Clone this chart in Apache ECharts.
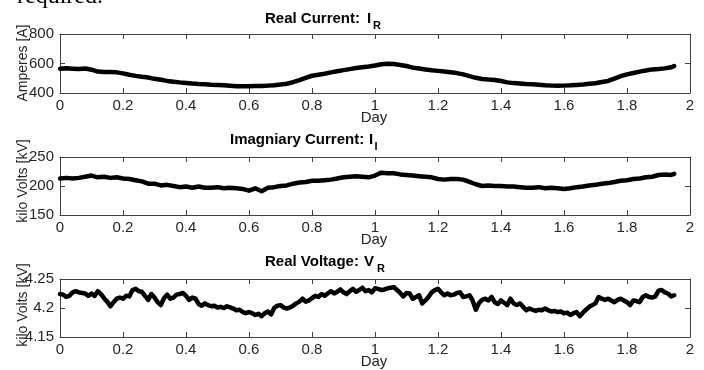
<!DOCTYPE html>
<html><head><meta charset="utf-8">
<script src="https://cdn.jsdelivr.net/npm/echarts@6/dist/echarts.min.js"></script>
<style>html,body{margin:0;padding:0;background:#fff}#c{width:704px;height:370px}</style>
</head><body><div id="c"></div><script>
// ---- data ----
const dayCoarse = [
0,0.02,0.04,0.06,0.08,0.1,0.12,0.14,0.16,0.18,
0.2,0.22,0.24,0.26,0.28,0.3,0.32,0.34,0.36,0.38,
0.4,0.42,0.44,0.46,0.48,0.5,0.52,0.54,0.56,0.58,
0.6,0.62,0.64,0.66,0.68,0.7,0.72,0.74,0.76,0.78,
0.8,0.82,0.84,0.86,0.88,0.9,0.92,0.94,0.96,0.98,
1,1.02,1.04,1.06,1.08,1.1,1.12,1.14,1.16,1.18,
1.2,1.22,1.24,1.26,1.28,1.3,1.32,1.34,1.36,1.38,
1.4,1.42,1.44,1.46,1.48,1.5,1.52,1.54,1.56,1.58,
1.6,1.62,1.64,1.66,1.68,1.7,1.72,1.74,1.76,1.78,
1.8,1.82,1.84,1.86,1.88,1.9,1.92,1.94,1.95];
const realCurrent = [
565,568,565,562,566,558,545,543,542,540,
533,524,516,510,505,496,490,482,477,472,
468,464,461,459,456,454,452,449,446,445,
446,448,447,450,452,457,463,474,487,503,
517,524,531,540,548,555,562,569,575,580,
586,595,598,596,590,583,572,566,560,554,
550,546,541,535,526,514,503,495,491,488,
481,472,467,464,461,459,456,452,450,449,
450,452,455,458,462,466,475,482,498,514,
526,536,545,552,560,563,567,574,583];
const imagCurrent = [
213,214,213,214,216,218,215,216,214,215,
213,212,210,208,204,204,201,202,200,198,
199,197,199,197,197,198,196,197,196,195,
192,196,191,197,198,200,201,204,206,207,
209,209,210,211,213,215,216,217,216,215,
218,223,222,222,220,219,218,217,216,215,
212,211,212,212,211,207,203,200,201,200,
200,199,199,198,197,197,198,196,197,196,
195,196,198,199,201,202,204,205,207,209,
210,212,213,215,216,219,220,219,221];
const dayFine = [
0,0.01,0.02,0.03,0.04,0.05,0.06,0.07,0.08,0.09,
0.1,0.11,0.12,0.13,0.14,0.15,0.16,0.17,0.18,0.19,
0.2,0.21,0.22,0.23,0.24,0.25,0.26,0.27,0.28,0.29,
0.3,0.31,0.32,0.33,0.34,0.35,0.36,0.37,0.38,0.39,
0.4,0.41,0.42,0.43,0.44,0.45,0.46,0.47,0.48,0.49,
0.5,0.51,0.52,0.53,0.54,0.55,0.56,0.57,0.58,0.59,
0.6,0.61,0.62,0.63,0.64,0.65,0.66,0.67,0.68,0.69,
0.7,0.71,0.72,0.73,0.74,0.75,0.76,0.77,0.78,0.79,
0.8,0.81,0.82,0.83,0.84,0.85,0.86,0.87,0.88,0.89,
0.9,0.91,0.92,0.93,0.94,0.95,0.96,0.97,0.98,0.99,
1,1.01,1.02,1.03,1.04,1.05,1.06,1.07,1.08,1.09,
1.1,1.11,1.12,1.13,1.14,1.15,1.16,1.17,1.18,1.19,
1.2,1.21,1.22,1.23,1.24,1.25,1.26,1.27,1.28,1.29,
1.3,1.31,1.32,1.33,1.34,1.35,1.36,1.37,1.38,1.39,
1.4,1.41,1.42,1.43,1.44,1.45,1.46,1.47,1.48,1.49,
1.5,1.51,1.52,1.53,1.54,1.55,1.56,1.57,1.58,1.59,
1.6,1.61,1.62,1.63,1.64,1.65,1.66,1.67,1.68,1.69,
1.7,1.71,1.72,1.73,1.74,1.75,1.76,1.77,1.78,1.79,
1.8,1.81,1.82,1.83,1.84,1.85,1.86,1.87,1.88,1.89,
1.9,1.91,1.92,1.93,1.94,1.95];
const realVoltage = [
4.224,4.223,4.219,4.221,4.227,4.229,4.227,4.226,4.225,4.221,
4.225,4.221,4.229,4.224,4.217,4.211,4.203,4.210,4.216,4.218,
4.216,4.221,4.220,4.231,4.233,4.229,4.228,4.221,4.214,4.224,
4.218,4.210,4.205,4.217,4.223,4.216,4.218,4.223,4.224,4.226,
4.221,4.214,4.218,4.216,4.207,4.204,4.208,4.205,4.203,4.204,
4.201,4.202,4.200,4.203,4.201,4.199,4.196,4.197,4.193,4.191,
4.193,4.191,4.188,4.190,4.186,4.191,4.194,4.189,4.200,4.204,
4.205,4.201,4.199,4.201,4.204,4.208,4.211,4.216,4.211,4.213,
4.217,4.221,4.219,4.224,4.221,4.225,4.229,4.225,4.228,4.232,
4.227,4.224,4.229,4.233,4.228,4.231,4.235,4.229,4.231,4.227,
4.234,4.233,4.231,4.232,4.234,4.235,4.236,4.231,4.226,4.220,
4.226,4.225,4.216,4.219,4.222,4.208,4.213,4.219,4.227,4.231,
4.233,4.227,4.222,4.225,4.222,4.223,4.226,4.227,4.219,4.220,
4.222,4.213,4.197,4.208,4.214,4.216,4.213,4.219,4.210,4.207,
4.213,4.209,4.205,4.216,4.208,4.205,4.208,4.202,4.196,4.199,
4.197,4.195,4.197,4.196,4.199,4.196,4.194,4.195,4.193,4.194,
4.191,4.192,4.188,4.191,4.193,4.186,4.192,4.197,4.202,4.205,
4.208,4.219,4.216,4.214,4.216,4.213,4.210,4.214,4.216,4.213,
4.210,4.205,4.213,4.212,4.210,4.219,4.222,4.219,4.218,4.220,
4.230,4.231,4.227,4.225,4.220,4.222];
const xTicks = [0,0.2,0.4,0.6,0.8,1,1.2,1.4,1.6,1.8,2];
const yTicks1 = [400,600,800];
const yTicks2 = [150,200,250];
const yTicks3 = [4.15,4.2,4.25];

// ---- layout/style ----
const FONT = '"Liberation Sans", Arial, Helvetica, sans-serif';
const FRAME = '#404040';
const TXT = '#262626';
const grids = [
  {left:60, top:34, width:630, height:59},
  {left:60, top:157, width:630, height:58},
  {left:60, top:279, width:630, height:58}
];
const yTickSets = [yTicks1, yTicks2, yTicks3];
const seriesData = [
  [dayCoarse, realCurrent],
  [dayCoarse, imagCurrent],
  [dayFine, realVoltage]
];

const xAxis = [], yAxis = [], series = [];
grids.forEach((g, i) => {
  const yt = yTickSets[i];
  const common = {
    type:'value', gridIndex:i, splitLine:{show:false},
    axisLine:{show:true, onZero:false, lineStyle:{color:FRAME, width:1}},
    axisTick:{show:true, inside:true, length:5, lineStyle:{color:FRAME, width:1}}
  };
  const xc = Object.assign({}, common, {min:xTicks[0], max:xTicks[xTicks.length-1], interval:xTicks[1]-xTicks[0]});
  xAxis.push(Object.assign({}, xc, {position:'bottom',
    axisLabel:{show:true, margin:5, color:TXT, fontSize:15, fontFamily:FONT}}));
  xAxis.push(Object.assign({}, xc, {position:'top', axisLabel:{show:false}}));
  const yc = Object.assign({}, common, {min:yt[0], max:yt[yt.length-1], interval:+(yt[1]-yt[0]).toFixed(6)});
  yAxis.push(Object.assign({}, yc, {position:'left',
    axisLabel:{show:true, margin:6, color:TXT, fontSize:15, fontFamily:FONT}}));
  yAxis.push(Object.assign({}, yc, {position:'right', axisLabel:{show:false}}));
  const [xs, ys] = seriesData[i];
  series.push({
    type:'line', xAxisIndex:2*i, yAxisIndex:2*i,
    data: xs.map((d, k) => [d, ys[k]]),
    symbol:'none', showSymbol:false, smooth:false,
    lineStyle:{color:'#000', width:4.5, join:'round', cap:'round'},
    animation:false, silent:true
  });
});

function txt(x, y, text, size, opts) {
  opts = opts || {};
  return {type:'text', x:x, y:y, rotation:opts.rot || 0, silent:true,
    style:{text:text, font:(opts.bold ? 'bold ' : '') + size + 'px ' + (opts.family || FONT),
      fill:opts.fill || '#000', align:opts.align || 'left', verticalAlign:'middle'}};
}

const graphic = [
  txt(103, -3, 'required.', 24, {align:'right', family:'"Liberation Serif", "Times New Roman", serif'}),
  // titles
  txt(265, 19, 'Real Current:', 15, {bold:true}),
  txt(367, 19, 'I', 15, {bold:true}),
  txt(373, 25.5, 'R', 11, {bold:true}),
  txt(230, 139.5, 'Imagniary Current:', 15, {bold:true}),
  txt(369, 139.5, 'I', 15, {bold:true}),
  txt(374.5, 147, 'I', 11, {bold:true}),
  txt(265, 261.5, 'Real Voltage:', 15, {bold:true}),
  txt(364, 261.5, 'V', 15, {bold:true}),
  txt(377, 269, 'R', 11, {bold:true}),
  // x names
  txt(374, 118, 'Day', 15, {align:'center', fill:TXT}),
  txt(374, 240, 'Day', 15, {align:'center', fill:TXT}),
  txt(374, 362, 'Day', 15, {align:'center', fill:TXT}),
  // y names
  txt(23, 63, 'Amperes [A]', 14, {align:'center', fill:TXT, rot:Math.PI/2}),
  txt(23, 181, 'kilo Volts [kV]', 14, {align:'center', fill:TXT, rot:Math.PI/2}),
  txt(23, 305, 'kilo Volts [kV]', 14, {align:'center', fill:TXT, rot:Math.PI/2})
];

const chart = echarts.init(document.getElementById('c'), null, {renderer:'canvas'});
chart.setOption({
  animation:false,
  backgroundColor:'#fff',
  grid: grids.map(g => Object.assign({show:false, containLabel:false}, g)),
  xAxis, yAxis, series, graphic
});
</script></body></html>
